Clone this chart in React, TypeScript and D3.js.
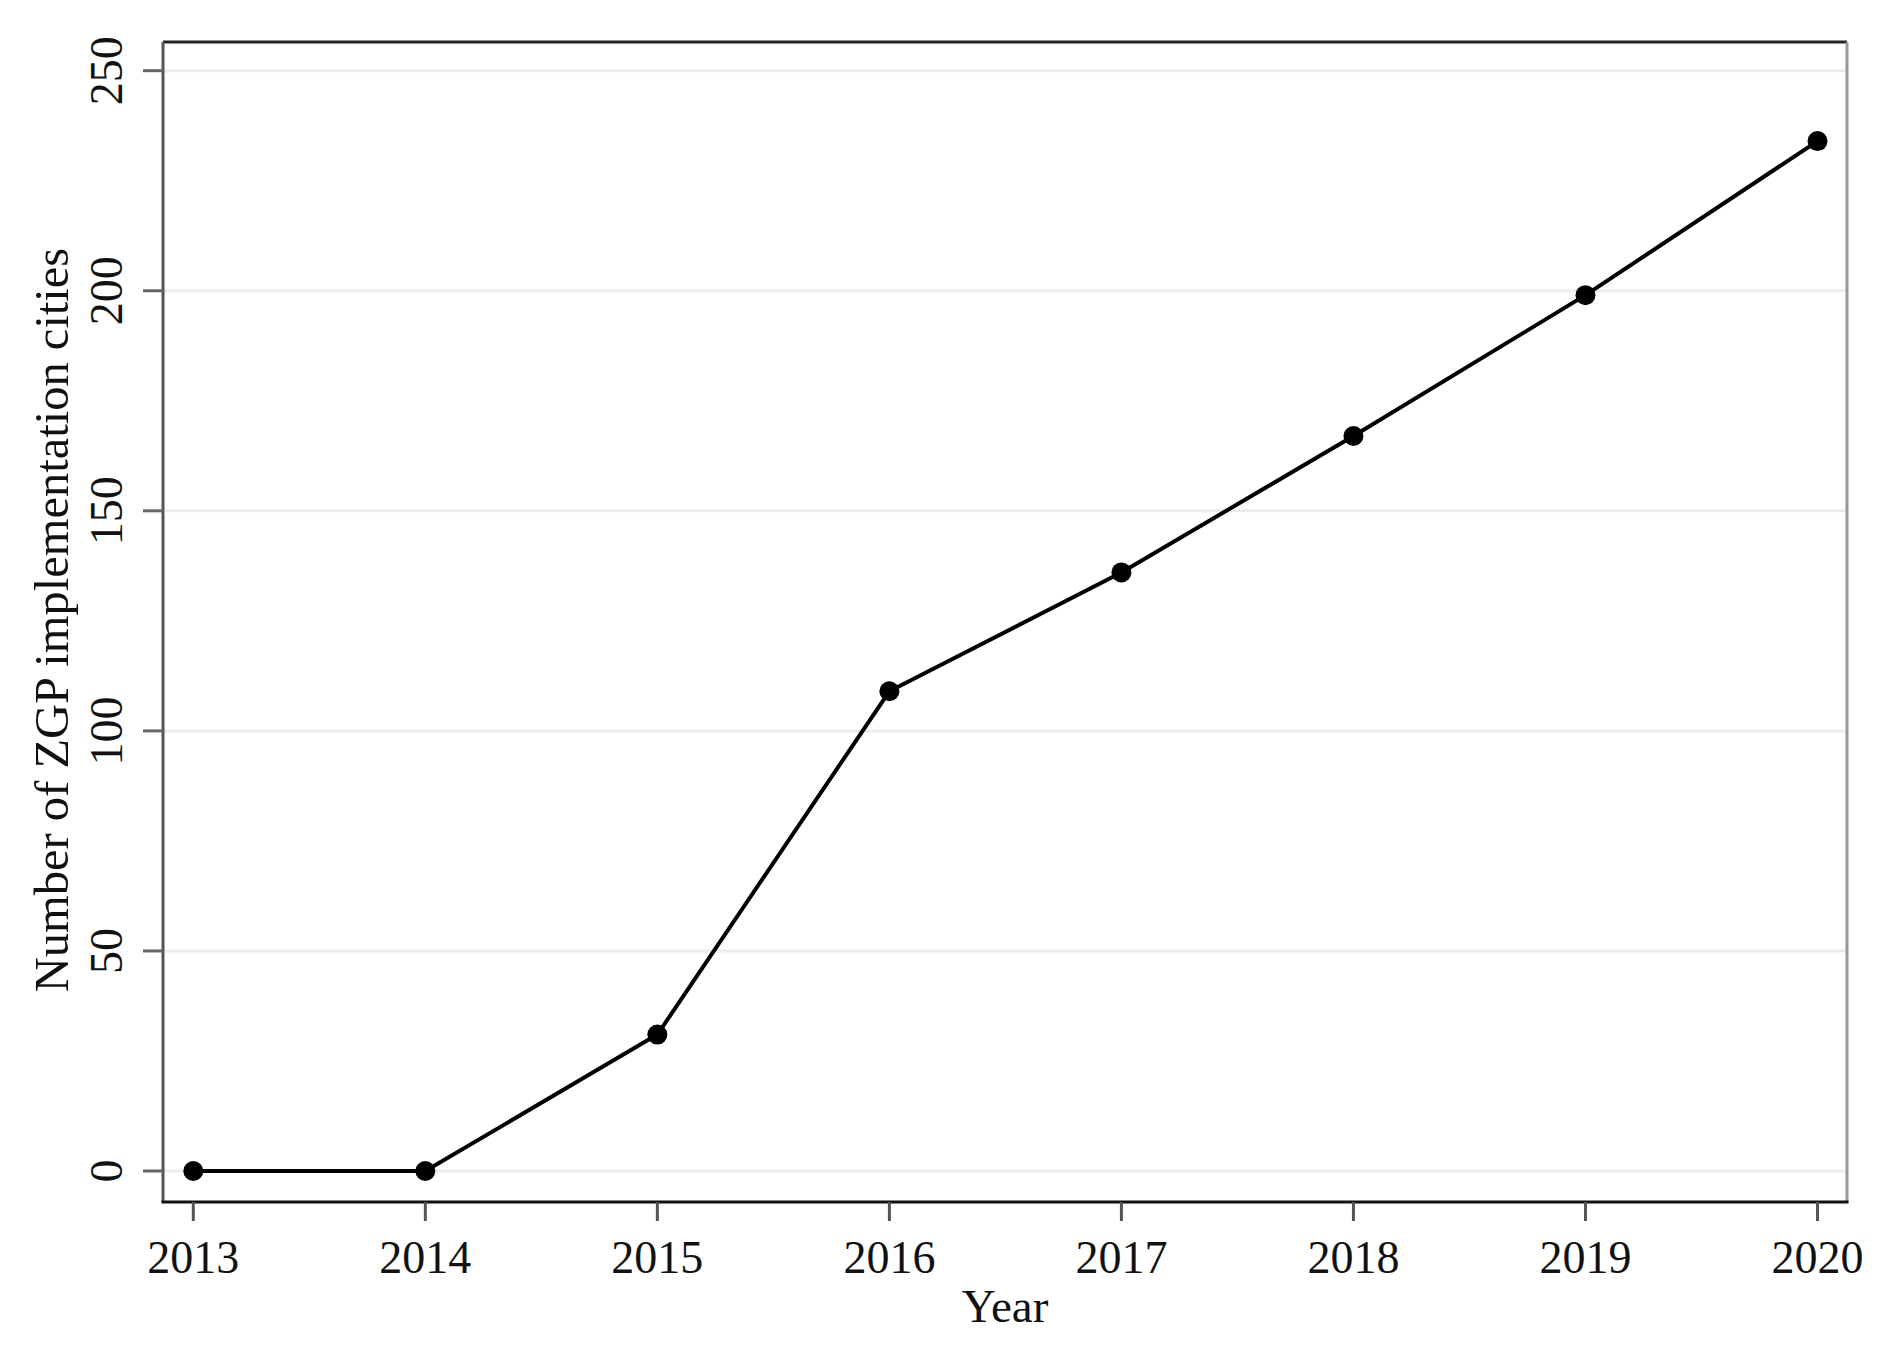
import React from "react";
import * as d3 from "d3";

const years = [2013, 2014, 2015, 2016, 2017, 2018, 2019, 2020];
const cities = [0, 0, 31, 109, 136, 167, 199, 234];
const yTicks = [0, 50, 100, 150, 200, 250];
const xTitle = "Year";
const yTitle = "Number of ZGP implementation cities";

const W = 1888;
const H = 1348;
const frame = { left: 163, right: 1847, top: 42, bottom: 1202 };
const FONT = "'Liberation Serif', 'Times New Roman', 'DejaVu Serif', serif";

export default function App() {
  const x = d3.scaleLinear().domain([2013, 2020]).range([193.3, 1817.5]);
  const y = d3.scaleLinear().domain([0, 250]).range([1171, 70.7]);
  const data = years.map((yr, i) => ({ yr, v: cities[i] }));
  const line = d3
    .line<{ yr: number; v: number }>()
    .x((d) => x(d.yr))
    .y((d) => y(d.v));

  return (
    <svg
      width={W}
      height={H}
      viewBox={`0 0 ${W} ${H}`}
      style={{ position: "absolute", left: 0, top: 0, background: "#fff" }}
    >
      <rect x={0} y={0} width={W} height={H} fill="#fff" />
      {yTicks.map((t) => (
        <line
          key={"g" + t}
          x1={frame.left}
          x2={frame.right}
          y1={y(t)}
          y2={y(t)}
          stroke="#ececec"
          strokeWidth={3}
        />
      ))}
      <line x1={frame.left} x2={frame.right} y1={frame.top} y2={frame.top} stroke="#222" strokeWidth={3} />
      <line x1={frame.right} x2={frame.right} y1={frame.top} y2={frame.bottom} stroke="#999" strokeWidth={3} />
      <line x1={frame.left} x2={frame.left} y1={frame.top} y2={frame.bottom} stroke="#555" strokeWidth={3} />
      <line x1={frame.left - 1.5} x2={frame.right + 1.5} y1={frame.bottom} y2={frame.bottom} stroke="#111" strokeWidth={3} />
      {yTicks.map((t) => (
        <g key={"y" + t}>
          <line x1={143} x2={frame.left} y1={y(t)} y2={y(t)} stroke="#666" strokeWidth={3} />
          <text
            transform={`translate(122,${y(t)}) rotate(-90)`}
            textAnchor="middle"
            fontFamily={FONT}
            fontSize={46}
            fill="#111"
          >
            {t}
          </text>
        </g>
      ))}
      {years.map((yr) => (
        <g key={"x" + yr}>
          <line x1={x(yr)} x2={x(yr)} y1={frame.bottom} y2={1221} stroke="#555" strokeWidth={3} />
          <text x={x(yr)} y={1273} textAnchor="middle" fontFamily={FONT} fontSize={46} fill="#111">
            {yr}
          </text>
        </g>
      ))}
      <text x={(frame.left + frame.right) / 2} y={1322} textAnchor="middle" fontFamily={FONT} fontSize={47} fill="#111">
        {xTitle}
      </text>
      <text
        transform={`translate(68,${(frame.top + frame.bottom) / 2 - 2}) rotate(-90)`}
        textAnchor="middle"
        fontFamily={FONT}
        fontSize={48.5}
        fill="#111"
      >
        {yTitle}
      </text>
      <path d={line(data) || ""} fill="none" stroke="#000" strokeWidth={4} />
      {data.map((d) => (
        <circle key={"c" + d.yr} cx={x(d.yr)} cy={y(d.v)} r={10} fill="#000" />
      ))}
    </svg>
  );
}
